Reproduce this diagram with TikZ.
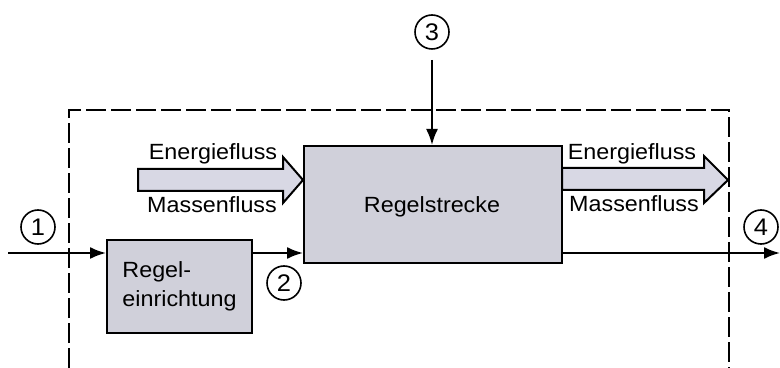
\documentclass[tikz,border=0pt]{standalone}
\usepackage{fontspec}
\setmainfont{Liberation Sans}[FakeStretch=1.06]
\usetikzlibrary{arrows.meta}
\definecolor{boxfill}{RGB}{208,208,218}
\definecolor{flowfill}{RGB}{216,216,228}
\begin{document}
\begin{tikzpicture}[x=0.5pt,y=-0.5pt,
  font=\fontsize{11}{14.5}\selectfont,
  blockbox/.style={draw=black,fill=boxfill,line width=1pt,inner sep=0pt,anchor=center},
  numcirc/.style={draw=black,circle,line width=0.8pt,minimum size=17pt,inner sep=0pt,font=\fontsize{12}{14}\selectfont},
  sig/.style={line width=1pt,-{Latex[length=8pt,width=6pt]}},
  flow/.style={draw=black,fill=flowfill,line width=1pt,line join=miter},
  frame/.style={line width=1pt,dash pattern=on 10pt off 2.5pt},
  lbl/.style={inner sep=0pt}]
\useasboundingbox (0,0) rectangle (780,368);
% dashed system boundary
\draw[frame] (69,368) -- (69,110) -- (729,110) -- (729,368);
% blocks
\node[blockbox,minimum width=129pt,minimum height=58.5pt] (strecke) at (433,204.5) {};
\node[lbl] (streckeTxt) at (432,207) {Regelstrecke};
\node[blockbox,minimum width=72.5pt,minimum height=46.5pt,align=left] (rein) at (179.5,286.5) {Regel-\\einrichtung};
% flow arrows
\draw[flow] (138,169) -- (283,169) -- (283,157) -- (303,180) -- (283,203) -- (283,191) -- (138,191) -- cycle;
\draw[flow] (562,168) -- (704,168) -- (704,156) -- (728,180) -- (704,203) -- (704,190) -- (562,190) -- cycle;
\node[lbl] (e1) at (213,154) {Energiefluss};
\node[lbl] (m1) at (212,205) {Massenfluss};
\node[lbl] (e2) at (632,154) {Energiefluss};
\node[lbl] (m2) at (634,204) {Massenfluss};
% numbered circles
\node[numcirc] (c1) at (38,227) {1};
\node[numcirc] (c2) at (284,283) {2};
\node[numcirc] (c3) at (432,32) {3};
\node[numcirc] (c4) at (761,227) {4};
% signal lines
\coordinate (in1) at (8,253);
\coordinate (out4) at (780,253);
\coordinate (s3) at (432,60);
\draw[sig] (in1) -- (in1 -| rein.west);
\draw[sig] (rein.east |- in1) -- (strecke.west |- in1);
\draw[sig] (strecke.east |- in1) -- (out4);
\draw[sig] (s3) -- (s3 |- strecke.north);
\end{tikzpicture}
\end{document}
